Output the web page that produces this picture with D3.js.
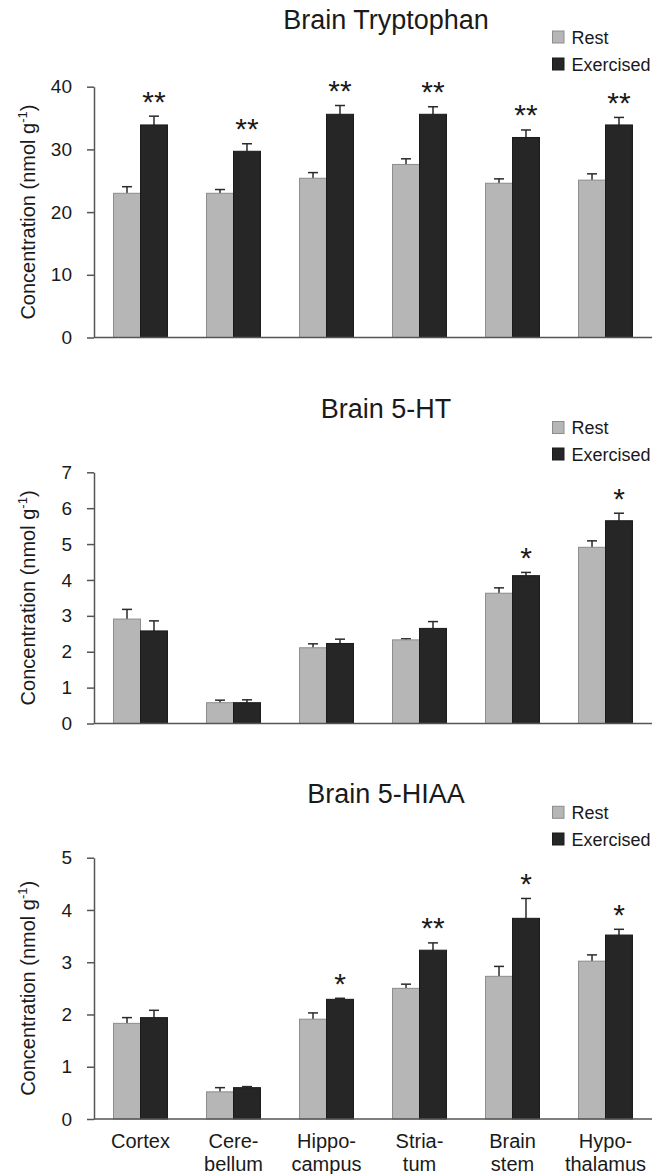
<!DOCTYPE html>
<html>
<head>
<meta charset="utf-8">
<script src="https://cdn.jsdelivr.net/npm/d3@7"></script>
<style>
  html, body { margin: 0; padding: 0; background: #fff; }
  svg { display: block; }
  text { font-family: "Liberation Sans", Arial, Helvetica, sans-serif; fill: #1a1a1a; }
</style>
</head>
<body>
<svg id="chart" width="665" height="1174"></svg>
<script>
// ---------------- data ----------------
const regions = ["Cortex", "Cerebellum", "Hippocampus", "Striatum", "Brain stem", "Hypothalamus"];
const regionLabels = [["Cortex"], ["Cere-", "bellum"], ["Hippo-", "campus"], ["Stria-", "tum"], ["Brain", "stem"], ["Hypo-", "thalamus"]];
const groups = ["Rest", "Exercised"];

const trpRest     = [23.0, 23.0, 25.4, 27.6, 24.6, 25.1];
const trpRestErr  = [1.05, 0.6, 0.9, 0.9, 0.7, 1.0];
const trpEx       = [33.9, 29.7, 35.6, 35.6, 31.9, 33.9];
const trpExErr    = [1.4, 1.2, 1.4, 1.2, 1.2, 1.2];
const trpSig      = ["**", "**", "**", "**", "**", "**"];

const htRest      = [2.91, 0.58, 2.11, 2.33, 3.63, 4.91];
const htRestErr   = [0.27, 0.07, 0.11, 0.03, 0.15, 0.18];
const htEx        = [2.58, 0.58, 2.23, 2.65, 4.12, 5.65];
const htExErr     = [0.28, 0.08, 0.12, 0.19, 0.09, 0.21];
const htSig       = ["", "", "", "", "*", "*"];

const hiaaRest    = [1.83, 0.52, 1.91, 2.50, 2.73, 3.02];
const hiaaRestErr = [0.11, 0.08, 0.12, 0.08, 0.19, 0.12];
const hiaaEx      = [1.94, 0.60, 2.29, 3.23, 3.84, 3.52];
const hiaaExErr   = [0.14, 0.02, 0.02, 0.14, 0.38, 0.11];
const hiaaSig     = ["", "", "*", "**", "*", "*"];

const titles = ["Brain Tryptophan", "Brain 5-HT", "Brain 5-HIAA"];
const yMaxes = [40, 7, 5];
const yTicks = [[0, 10, 20, 30, 40], [0, 1, 2, 3, 4, 5, 6, 7], [0, 1, 2, 3, 4, 5]];

// ---------------- layout ----------------
const svg = d3.select("#chart");
const colors = { Rest: "#b6b6b6", Exercised: "#262626" };
const strokes = { Rest: "#8c8c8c", Exercised: "#1a1a1a" };
const axisColor = "#555";

const layout = [
  { top: 86.7,  zero: 337.5, titleY: 29.3,  legY: [37.0, 64.0] },
  { top: 472.3, zero: 723.5, titleY: 418.3, legY: [427.5, 454.0] },
  { top: 857.7, zero: 1119,  titleY: 803.3, legY: [812.3, 839.0] }
];
const xLeft = 94, xRight = 652;

const x = d3.scaleBand().domain(regions).range([xLeft, xRight]).paddingInner(0.42).paddingOuter(0.21);
const xs = d3.scaleBand().domain(groups).range([0, x.bandwidth()]);

const panelData = [
  { rest: trpRest, restErr: trpRestErr, ex: trpEx, exErr: trpExErr, sig: trpSig },
  { rest: htRest, restErr: htRestErr, ex: htEx, exErr: htExErr, sig: htSig },
  { rest: hiaaRest, restErr: hiaaRestErr, ex: hiaaEx, exErr: hiaaExErr, sig: hiaaSig }
];

panelData.forEach((pd, pi) => {
  const L = layout[pi];
  const g = svg.append("g");
  const y = d3.scaleLinear().domain([0, yMaxes[pi]]).range([L.zero, L.top]);

  // title
  g.append("text")
    .attr("x", 386).attr("y", L.titleY)
    .attr("text-anchor", "middle")
    .style("font-size", "27px")
    .text(titles[pi]);

  // legend
  groups.forEach((grp, gi) => {
    const cy = L.legY[gi];
    g.append("rect")
      .attr("x", 552.5).attr("y", cy - 6)
      .attr("width", 11.5).attr("height", 12)
      .attr("fill", colors[grp]).attr("stroke", strokes[grp]).attr("stroke-width", 1);
    g.append("text")
      .attr("x", 571.5).attr("y", cy + 6.5)
      .style("font-size", "18px")
      .text(grp);
  });

  // y axis
  const yAxis = d3.axisLeft(y).tickValues(yTicks[pi]).tickSize(7).tickSizeOuter(0).tickPadding(15).tickFormat(d3.format("d"));
  const ya = g.append("g").attr("transform", `translate(${xLeft},0)`).call(yAxis);
  ya.select(".domain").attr("stroke", axisColor).attr("stroke-width", 1.5);
  ya.selectAll(".tick line").attr("stroke", axisColor).attr("stroke-width", 1.5);
  ya.selectAll(".tick text")
    .style("font-size", "19px")
    .style("font-family", "'Liberation Sans', Arial, sans-serif")
    .attr("fill", "#1a1a1a");

  // y label
  const yl = g.append("text")
    .attr("transform", `translate(35,${(L.top + L.zero) / 2}) rotate(-90)`)
    .attr("text-anchor", "middle")
    .style("font-size", "20px");
  yl.append("tspan").text("Concentration (nmol g");
  yl.append("tspan").attr("dy", -8).style("font-size", "13px").text("-1");
  yl.append("tspan").attr("dy", 8).text(")");

  // bars
  const rows = regions.map((r, i) => ({
    region: r, i,
    vals: [
      { grp: "Rest", v: pd.rest[i], e: pd.restErr[i] },
      { grp: "Exercised", v: pd.ex[i], e: pd.exErr[i] }
    ],
    sig: pd.sig[i]
  }));

  const rg = g.selectAll("g.region").data(rows).enter().append("g")
    .attr("class", "region")
    .attr("transform", d => `translate(${x(d.region)},0)`);

  const bars = rg.selectAll("g.bar").data(d => d.vals).enter().append("g").attr("class", "bar");

  bars.append("line")
    .attr("x1", d => xs(d.grp) + xs.bandwidth() / 2)
    .attr("x2", d => xs(d.grp) + xs.bandwidth() / 2)
    .attr("y1", d => y(d.v))
    .attr("y2", d => y(d.v + d.e))
    .attr("stroke", "#2a2a2a").attr("stroke-width", 1.5);
  bars.append("line")
    .attr("x1", d => xs(d.grp) + xs.bandwidth() / 2 - 5)
    .attr("x2", d => xs(d.grp) + xs.bandwidth() / 2 + 5)
    .attr("y1", d => y(d.v + d.e))
    .attr("y2", d => y(d.v + d.e))
    .attr("stroke", "#2a2a2a").attr("stroke-width", 1.5);

  bars.append("rect")
    .attr("x", d => xs(d.grp))
    .attr("y", d => y(d.v))
    .attr("width", xs.bandwidth())
    .attr("height", d => y(0) - y(d.v))
    .attr("fill", d => colors[d.grp])
    .attr("stroke", d => strokes[d.grp])
    .attr("stroke-width", 1);

  // significance stars
  const starSize = 30;
  rg.filter(d => d.sig !== "").append("text")
    .attr("x", d => xs("Exercised") + xs.bandwidth() / 2)
    .attr("y", d => y(d.vals[1].v + d.vals[1].e) - 22 + 0.58 * starSize)
    .attr("text-anchor", "middle")
    .style("font-size", starSize + "px")
    .text(d => d.sig);

  // x axis line
  g.append("line")
    .attr("x1", xLeft).attr("x2", xRight)
    .attr("y1", L.zero).attr("y2", L.zero)
    .attr("stroke", axisColor).attr("stroke-width", 1.5);

  // x labels on last panel only
  if (pi === 2) {
    const xl = g.selectAll("text.xlab").data(regions).enter().append("text")
      .attr("class", "xlab")
      .attr("text-anchor", "middle")
      .attr("x", d => x(d) + x.bandwidth() / 2)
      .attr("y", 1148)
      .style("font-size", "20px");
    xl.each(function(d, i) {
      const t = d3.select(this);
      regionLabels[i].forEach((line, li) => {
        t.append("tspan")
          .attr("x", x(d) + x.bandwidth() / 2)
          .attr("dy", li === 0 ? 0 : 23)
          .text(line);
      });
    });
  }
});
</script>
</body>
</html>
